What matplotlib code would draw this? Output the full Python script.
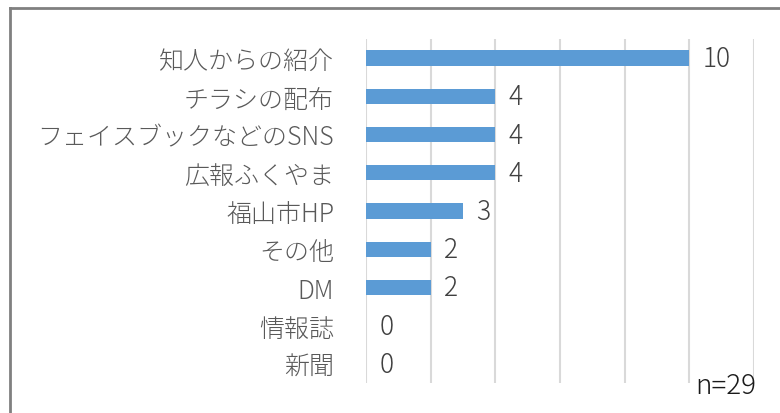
import matplotlib.pyplot as plt
from matplotlib.lines import Line2D

plt.rcParams['font.family'] = ['Noto Sans CJK JP', 'DejaVu Sans']
plt.rcParams['font.weight'] = 'light'

categories = ['知人からの紹介', 'チラシの配布', 'フェイスブックなどのSNS', '広報ふくやま',
              '福山市HP', 'その他', 'DM', '情報誌', '新聞']
counts = [10, 4, 4, 4, 3, 2, 2, 0, 0]

fig = plt.figure(figsize=(7.8, 4.14), dpi=100)
ax = fig.add_axes([366 / 780, 1 - 384 / 414, (754 - 366) / 780, (384 - 40) / 414])

ypos = list(range(len(categories)))
ax.barh(ypos, counts, height=0.4, color='#5b9bd5', zorder=3)

for y, v in zip(ypos, counts):
    ax.text(v + 0.42, y, str(v), va='center', ha='left', fontsize=19, color='#404040')

ax.set_xlim(0, 12)
ax.set_ylim(len(categories) - 0.5, -0.5)
ax.set_xticks(range(0, 13, 2))
ax.xaxis.grid(True, color='#d9d9d9', linewidth=1.5, zorder=0)
ax.tick_params(axis='x', bottom=False, labelbottom=False)
ax.tick_params(axis='y', length=0, pad=23, labelsize=18, labelcolor='#595959')
ax.set_yticks(ypos)
ax.set_yticklabels(categories)
for s in ax.spines.values():
    s.set_visible(False)

fig.text(695 / 780, 1 - 386 / 414, 'n=29', fontsize=20, color='#1a1a1a', va='center', ha='left')

# chart frame (left and top edges)
fig.add_artist(Line2D([10 / 780, 10 / 780], [0, 1 - 9 / 414], transform=fig.transFigure,
                      color='#808080', linewidth=2))
fig.add_artist(Line2D([10 / 780, 1], [1 - 9 / 414, 1 - 9 / 414], transform=fig.transFigure,
                      color='#808080', linewidth=2))

fig.savefig('out.png', dpi=100)
